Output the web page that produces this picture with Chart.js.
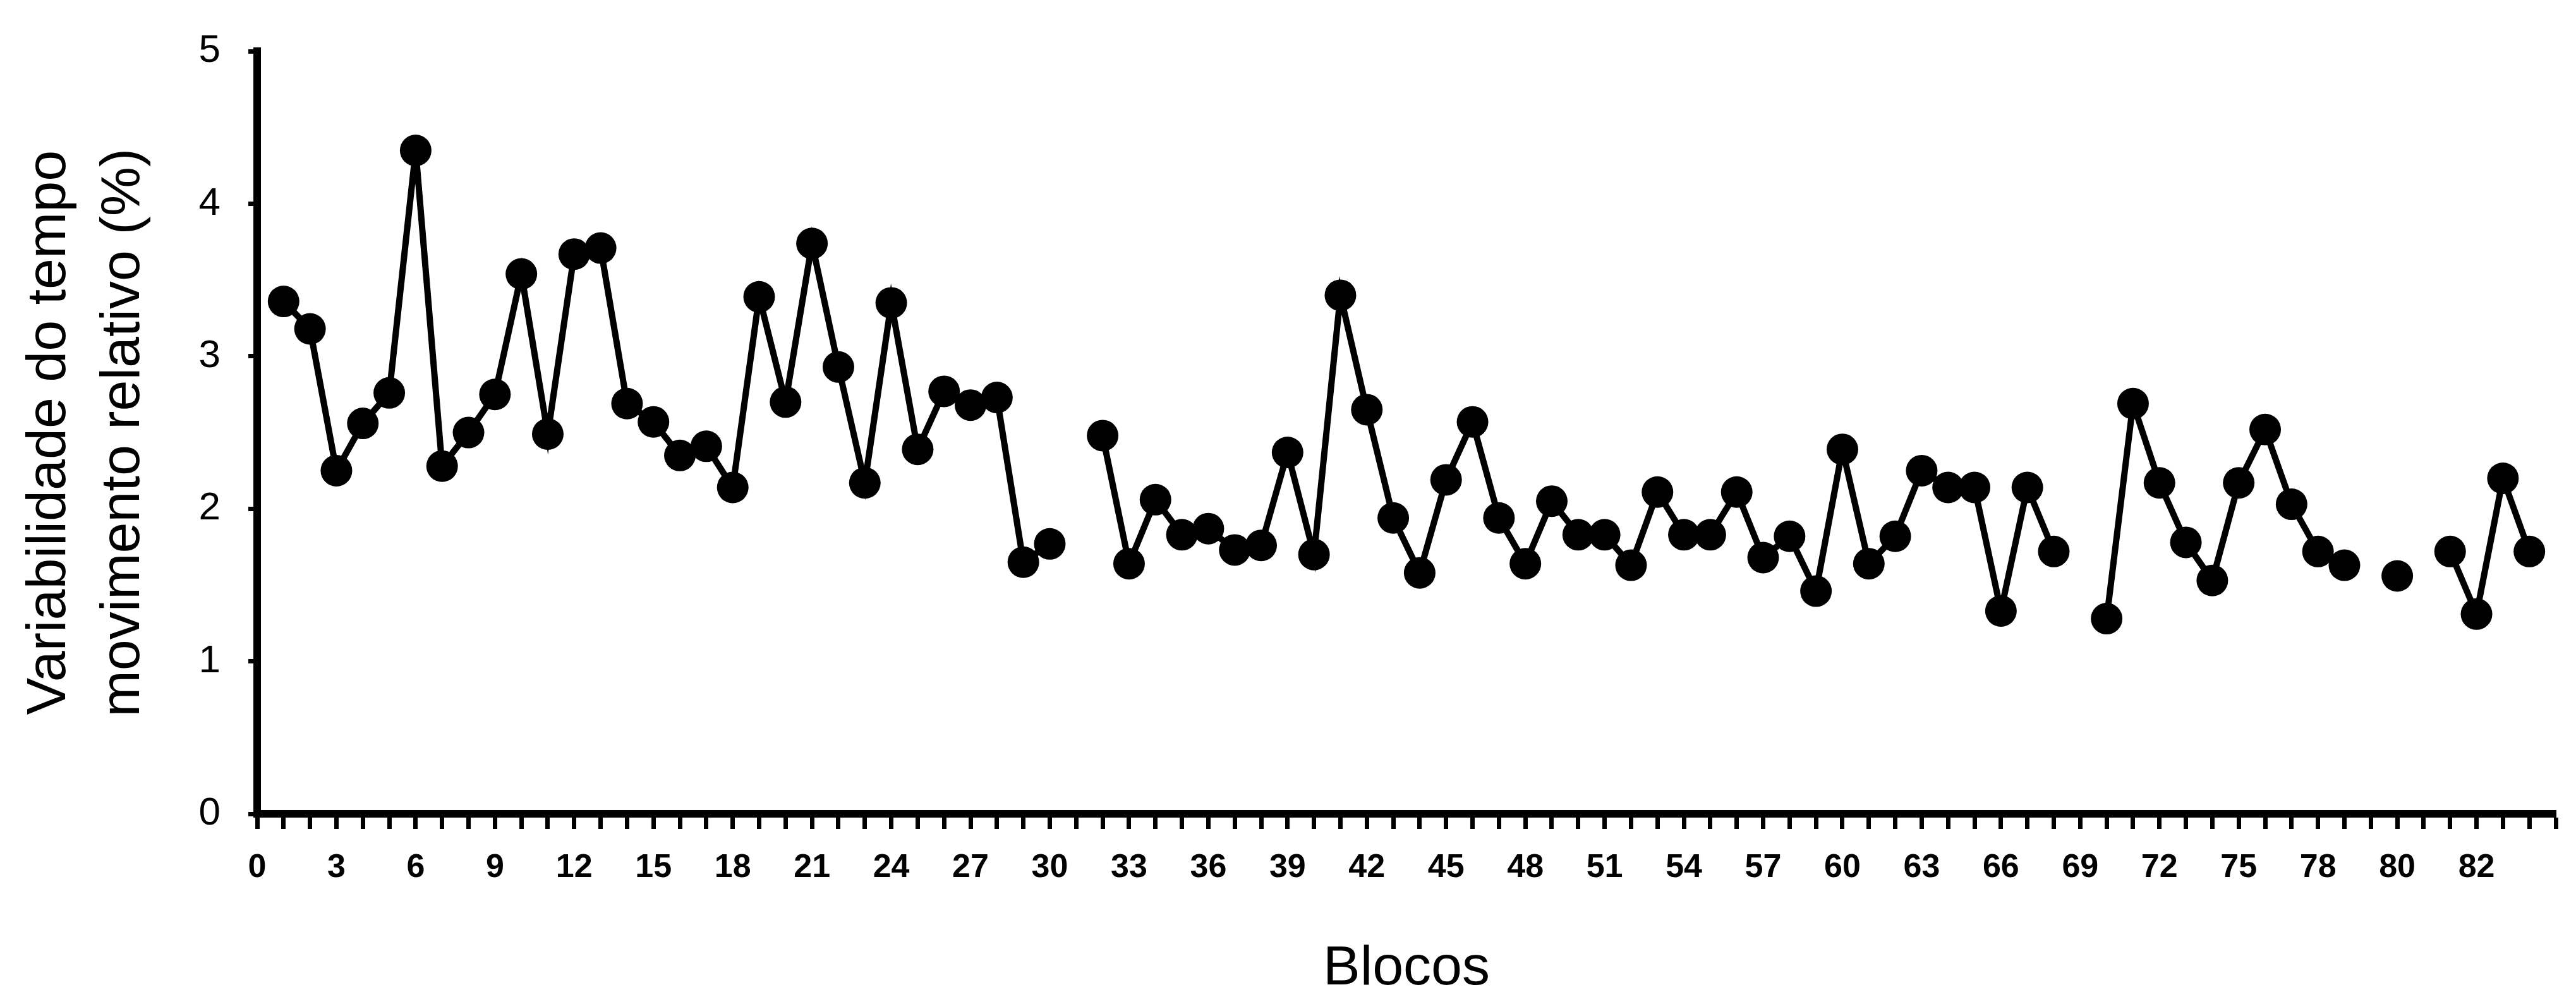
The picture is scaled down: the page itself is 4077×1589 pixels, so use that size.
<!DOCTYPE html>
<html lang="pt">
<head>
    <meta charset="UTF-8">
    <title>Variabilidade do tempo de movimento relativo</title>
    <script src="https://cdn.jsdelivr.net/npm/chart.js"></script>
    <style>
        body {
            margin: 0;
            padding: 0;
            background: #fff;
        }
        .chart-box {
            width: 4077px;
            height: 1589px;
        }
    </style>
</head>
<body>
    <div class="chart-box">
        <canvas id="blocosChart"></canvas>
    </div>

    <script>
        // block positions on the category axis (0 .. 87)
        const categories = [
            '0', '1', '2', '3', '4', '5', '6', '7', '8', '9',
            '10', '11', '12', '13', '14', '15', '16', '17', '18', '19',
            '20', '21', '22', '23', '24', '25', '26', '27', '28', '29',
            '30', '31', '32', '33', '34', '35', '36', '37', '38', '39',
            '40', '41', '42', '43', '44', '45', '46', '47', '48', '49',
            '50', '51', '52', '53', '54', '55', '56', '57', '58', '59',
            '60', '61', '62', '63', '64', '65', '66', '67', '68', '69',
            '70', '71', '72', '73', '74', '75', '76', '77', '78', '79',
            '80', '81', '82', '83', '84', '85', '86', '87'
        ];

        // text printed under every third tick, as in the original figure
        const tickLabels = ['0', '3', '6', '9', '12', '15', '18', '21', '24', '27',
            '30', '33', '36', '39', '42', '45', '48', '51', '54', '57',
            '60', '63', '66', '69', '72', '75', '78', '80', '82'];
        const labelEvery = 3;

        // variabilidade (%) per bloco, null = missing block
        const variabilidade = [
            null, 3.36, 3.18, 2.25, 2.56, 2.76, 4.35, 2.28, 2.50, 2.75,
            3.54, 2.49, 3.67, 3.71, 2.69, 2.57, 2.35, 2.41, 2.14, 3.39,
            2.70, 3.74, 2.93, 2.17, 3.35, 2.39, 2.77, 2.68, 2.73, 1.65,
            1.77, null, 2.48, 1.64, 2.06, 1.83, 1.87, 1.73, 1.76, 2.37,
            1.70, 3.40, 2.65, 1.94, 1.58, 2.19, 2.57, 1.94, 1.64, 2.05,
            1.83, 1.83, 1.63, 2.11, 1.83, 1.83, 2.11, 1.68, 1.82, 1.46,
            2.39, 1.64, 1.82, 2.25, 2.14, 2.14, 1.33, 2.14, 1.72, null,
            1.28, 2.69, 2.17, 1.78, 1.53, 2.17, 2.52, 2.03, 1.72, 1.63,
            null, 1.56, null, 1.72, 1.31, 2.20, 1.72, null
        ];

        const yTicks = [0, 1, 2, 3, 4, 5];

        const baseFont = "'Liberation Sans', Arial, Helvetica, sans-serif";
        const narrowFont = "'Liberation Sans Narrow', 'Arial Narrow', 'Liberation Sans', Arial, sans-serif";

        const ctx = document.getElementById('blocosChart').getContext('2d');
        new Chart(ctx, {
            type: 'line',
            data: {
                labels: categories,
                datasets: [{
                    data: variabilidade,
                    borderColor: '#000',
                    borderWidth: 10,
                    backgroundColor: '#000',
                    pointBackgroundColor: '#000',
                    pointBorderWidth: 0,
                    pointRadius: 25,
                    tension: 0,
                    spanGaps: false
                }]
            },
            options: {
                responsive: true,
                maintainAspectRatio: false,
                animation: false,
                layout: {
                    padding: { top: 57, right: 32, bottom: 0, left: 0 }
                },
                plugins: {
                    legend: { display: false },
                    tooltip: { enabled: false }
                },
                scales: {
                    x: {
                        type: 'category',
                        offset: false,
                        afterFit: scale => { scale.height = 301; },
                        grid: {
                            drawOnChartArea: false,
                            drawTicks: true,
                            tickLength: 24,
                            tickWidth: 7,
                            tickColor: '#000'
                        },
                        border: { display: true, color: '#000', width: 12 },
                        ticks: {
                            autoSkip: false,
                            maxRotation: 0,
                            minRotation: 0,
                            padding: 30,
                            color: '#000',
                            font: { family: narrowFont, size: 52, weight: 'bold' },
                            callback: (value, index) => {
                                if (index % labelEvery !== 0) return '';
                                return tickLabels[index / labelEvery] || '';
                            }
                        },
                        title: {
                            display: true,
                            text: 'Blocos',
                            color: '#000',
                            font: { family: baseFont, size: 88, lineHeight: 1.2 },
                            padding: { top: 0, bottom: 2 }
                        }
                    },
                    y: {
                        min: 0,
                        max: 5,
                        afterFit: scale => { scale.width = 407; },
                        afterBuildTicks: scale => {
                            scale.ticks = yTicks.map(v => ({ value: v }));
                        },
                        grid: {
                            drawOnChartArea: false,
                            drawTicks: true,
                            tickLength: 14,
                            tickWidth: 7,
                            tickColor: '#000'
                        },
                        border: { display: true, color: '#000', width: 12 },
                        ticks: {
                            padding: 44,
                            color: '#000',
                            font: { family: baseFont, size: 62 }
                        },
                        title: {
                            display: true,
                            text: ['Variabilidade do tempo', 'movimento relativo (%)'],
                            color: '#000',
                            font: { family: baseFont, size: 88, lineHeight: 1.33 },
                            padding: { top: 20, bottom: 0 }
                        }
                    }
                }
            }
        });
    </script>
</body>
</html>
